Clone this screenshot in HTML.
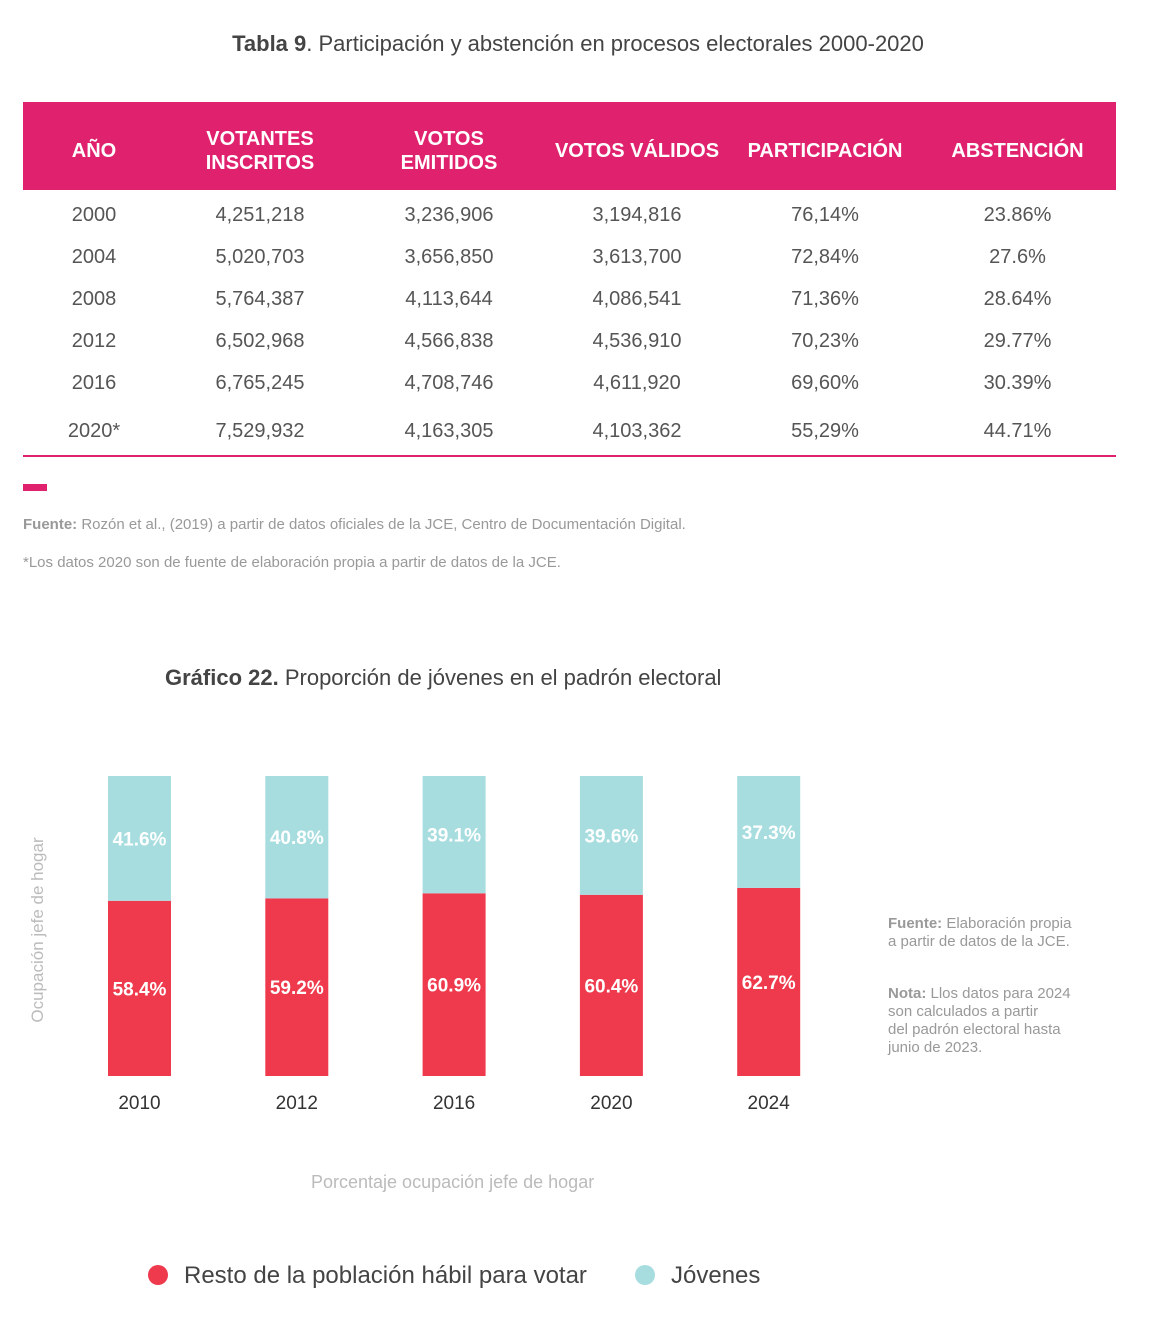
<!DOCTYPE html>
<html><head><meta charset="utf-8">
<style>
body{margin:0;width:1156px;height:1332px;background:#fff;font-family:"Liberation Sans",sans-serif;position:relative;overflow:hidden}
.abs{position:absolute}
.title{color:#444;font-size:22px;white-space:nowrap}
table{position:absolute;left:23px;top:102px;width:1093px;border-collapse:collapse}
th{background:#E0226E;color:#fff;font-size:20px;font-weight:bold;height:78px;padding:10px 0 0 0;line-height:24px}
td{text-align:center;color:#555;font-size:20px;height:34px;padding:8px 0 0 0}
tr.last td{height:47px;border-bottom:2px solid #E0226E}
.note{color:#999;font-size:15px;white-space:nowrap}
</style></head><body>
<div class="abs title" style="left:0;width:1156px;text-align:center;top:31px"><b>Tabla 9</b>. Participación y abstención en procesos electorales 2000-2020</div>
<table>
<tr><th style="width:142px">AÑO</th><th style="width:190px">VOTANTES<br>INSCRITOS</th><th style="width:188px">VOTOS<br>EMITIDOS</th><th style="width:188px">VOTOS VÁLIDOS</th><th style="width:188px">PARTICIPACIÓN</th><th>ABSTENCIÓN</th></tr>
<tr><td>2000</td><td>4,251,218</td><td>3,236,906</td><td>3,194,816</td><td>76,14%</td><td>23.86%</td></tr>
<tr><td>2004</td><td>5,020,703</td><td>3,656,850</td><td>3,613,700</td><td>72,84%</td><td>27.6%</td></tr>
<tr><td>2008</td><td>5,764,387</td><td>4,113,644</td><td>4,086,541</td><td>71,36%</td><td>28.64%</td></tr>
<tr><td>2012</td><td>6,502,968</td><td>4,566,838</td><td>4,536,910</td><td>70,23%</td><td>29.77%</td></tr>
<tr><td>2016</td><td>6,765,245</td><td>4,708,746</td><td>4,611,920</td><td>69,60%</td><td>30.39%</td></tr>
<tr class="last"><td>2020*</td><td>7,529,932</td><td>4,163,305</td><td>4,103,362</td><td>55,29%</td><td>44.71%</td></tr>
</table>
<div class="abs" style="left:23px;top:484px;width:24px;height:7px;background:#E0226E"></div>
<div class="abs note" style="left:23px;top:516px"><b>Fuente:</b> Rozón et al., (2019) a partir de datos oficiales de la JCE, Centro de Documentación Digital.</div>
<div class="abs note" style="left:23px;top:554px">*Los datos 2020 son de fuente de elaboración propia a partir de datos de la JCE.</div>
<div class="abs title" style="left:165px;top:665px"><b>Gráfico 22.</b> Proporción de jóvenes en el padrón electoral</div>
<div class="abs" style="left:38px;top:930px;transform:translate(-50%,-50%) rotate(-90deg);color:#bbb;font-size:17px;white-space:nowrap">Ocupación jefe de hogar</div>
<svg class="abs" style="left:0;top:0" width="1156" height="1332" id="chart"></svg>
<div class="abs" style="left:311px;top:1172px;color:#bbb;font-size:18px">Porcentaje ocupación jefe de hogar</div>
<div class="abs note" style="left:888px;top:915px;font-size:15px;line-height:18px;color:#999"><b>Fuente:</b> Elaboración propia<br>a partir de datos de la JCE.</div>
<div class="abs note" style="left:888px;top:985px;font-size:15px;line-height:18px;color:#999"><b>Nota:</b> Llos datos para 2024<br>son calculados a partir<br>del padrón electoral hasta<br>junio de 2023.</div>
<div class="abs" style="left:148px;top:1262px;font-size:24px;color:#444;white-space:nowrap"><span style="display:inline-block;width:20px;height:20px;border-radius:50%;background:#EE3A4C;vertical-align:-2px;margin-right:16px"></span>Resto de la población hábil para votar</div>
<div class="abs" style="left:635px;top:1262px;font-size:24px;color:#444;white-space:nowrap"><span style="display:inline-block;width:20px;height:20px;border-radius:50%;background:#A8DDE0;vertical-align:-2px;margin-right:16px"></span>Jóvenes</div>
<script>
const categories=["2010","2012","2016","2020","2024"];
const resto=[58.4,59.2,60.9,60.4,62.7];
const jovenes=[41.6,40.8,39.1,39.6,37.3];
const svg=document.getElementById('chart');
const NS='http://www.w3.org/2000/svg';
const top0=776,bottom0=1076,x0=108,step=157.3,bw=63;
function y(v){return bottom0-(v/100)*(bottom0-top0);}
function x(i){return x0+i*step;}
function mk(t,a){const e=document.createElementNS(NS,t);for(const k in a)e.setAttribute(k,a[k]);svg.appendChild(e);return e;}
categories.forEach((c,i)=>{
  const r=mk('rect',{x:x(i),y:y(resto[i]),width:bw,height:bottom0-y(resto[i]),fill:'#EE3A4C'});
  
  
  const j=mk('rect',{x:x(i),y:y(resto[i]+jovenes[i]),width:bw,height:y(resto[i])-y(resto[i]+jovenes[i]),fill:'#A8DDE0'});
  
  
  const t1=mk('text',{x:x(i)+bw/2,y:(y(resto[i])+bottom0)/2+7,'text-anchor':'middle',fill:'#fff','font-size':19,'font-weight':'bold','font-family':'Liberation Sans'});
  t1.textContent=resto[i].toFixed(1)+'%';
  
  
  const t2=mk('text',{x:x(i)+bw/2,y:(y(resto[i])+y(resto[i]+jovenes[i]))/2+7,'text-anchor':'middle',fill:'#fff','font-size':19,'font-weight':'bold','font-family':'Liberation Sans'});
  t2.textContent=jovenes[i].toFixed(1)+'%';
  
  
  const tl=mk('text',{x:x(i)+bw/2,y:1109,'text-anchor':'middle',fill:'#333','font-size':19,'font-family':'Liberation Sans'});
  tl.textContent=c;
  
  
});
</script>
</body></html>
